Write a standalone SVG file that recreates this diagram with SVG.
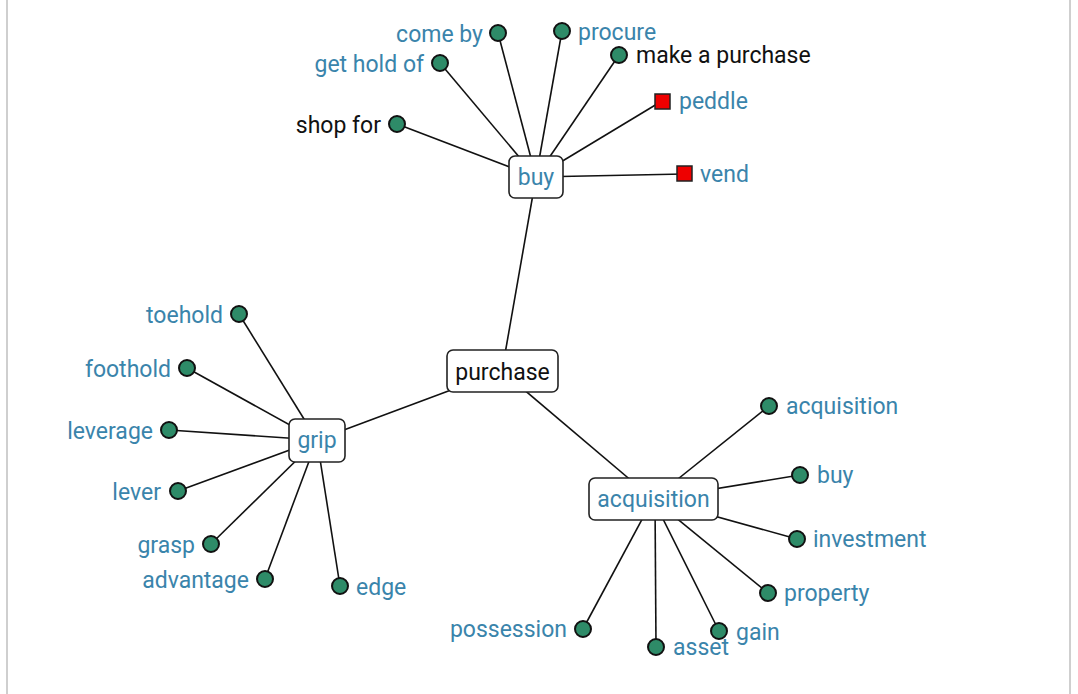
<svg xmlns="http://www.w3.org/2000/svg" width="1078" height="694" viewBox="0 0 1078 694">
<style>
.bg{fill:#fff}
.frame{stroke:#cfcfcf;stroke-width:2}
.edge{stroke:#111;stroke-width:1.6;fill:none}
.hub rect{fill:#fff;stroke:#222;stroke-width:1.6}
.t{font-family:Roboto,"Liberation Sans",sans-serif;font-size:23px;fill:#3a84ab}
.k{fill:#111}
.dot{fill:#2e8b68;stroke:#111;stroke-width:2}
.sq{fill:#ee0000;stroke:#222;stroke-width:1.5}
.e{text-anchor:end}
.m{text-anchor:middle}
</style>
<rect class="bg" x="0" y="0" width="1078" height="694"/>
<line class="frame" x1="7" y1="0" x2="7" y2="694"/>
<line class="frame" x1="1070" y1="0" x2="1070" y2="694"/>
<g id="connectors">
<line class="edge" x1="502" y1="371" x2="536" y2="177"/>
<line class="edge" x1="502" y1="371" x2="317" y2="440"/>
<line class="edge" x1="502" y1="371" x2="653" y2="499"/>
<line class="edge" x1="536" y1="177" x2="498" y2="33"/>
<line class="edge" x1="536" y1="177" x2="562" y2="31"/>
<line class="edge" x1="536" y1="177" x2="440" y2="63"/>
<line class="edge" x1="536" y1="177" x2="619" y2="55"/>
<line class="edge" x1="536" y1="177" x2="662" y2="101"/>
<line class="edge" x1="536" y1="177" x2="397" y2="124"/>
<line class="edge" x1="536" y1="177" x2="684" y2="174"/>
<line class="edge" x1="317" y1="440" x2="239" y2="314"/>
<line class="edge" x1="317" y1="440" x2="187" y2="368"/>
<line class="edge" x1="317" y1="440" x2="169" y2="430"/>
<line class="edge" x1="317" y1="440" x2="178" y2="491"/>
<line class="edge" x1="317" y1="440" x2="211" y2="544"/>
<line class="edge" x1="317" y1="440" x2="265" y2="579"/>
<line class="edge" x1="317" y1="440" x2="340" y2="586"/>
<line class="edge" x1="653" y1="499" x2="769" y2="406"/>
<line class="edge" x1="653" y1="499" x2="800" y2="475"/>
<line class="edge" x1="653" y1="499" x2="797" y2="539"/>
<line class="edge" x1="653" y1="499" x2="768" y2="593"/>
<line class="edge" x1="653" y1="499" x2="719" y2="631"/>
<line class="edge" x1="655" y1="499" x2="656" y2="647"/>
<line class="edge" x1="653" y1="499" x2="583" y2="629"/>
</g>
<g id="node-purchase" class="hub"><rect x="447" y="350" width="111" height="42" rx="6"/><text class="t k m" x="502.5" y="380">purchase</text></g>
<g id="node-buy" class="hub"><rect x="509" y="156" width="54" height="42" rx="6"/><text class="t m" x="536" y="185">buy</text></g>
<g id="node-grip" class="hub"><rect x="289" y="419" width="56" height="43" rx="6"/><text class="t m" x="317" y="448">grip</text></g>
<g id="node-acquisition" class="hub"><rect x="589" y="478" width="129" height="42" rx="6"/><text class="t m" x="653.5" y="507">acquisition</text></g>
<g id="leaf-come-by"><circle class="dot" cx="498" cy="33" r="8"/><text class="t e" x="483" y="42">come by</text></g>
<g id="leaf-procure"><circle class="dot" cx="562" cy="31" r="8"/><text class="t" x="578" y="40">procure</text></g>
<g id="leaf-get-hold-of"><circle class="dot" cx="440" cy="63" r="8"/><text class="t e" x="424" y="72">get hold of</text></g>
<g id="leaf-make-a-purchase"><circle class="dot" cx="619" cy="55" r="8"/><text class="t k" x="636" y="63">make a purchase</text></g>
<g id="leaf-peddle"><rect class="sq" x="655" y="94" width="15" height="15"/><text class="t" x="679" y="109">peddle</text></g>
<g id="leaf-shop-for"><circle class="dot" cx="397" cy="124" r="8"/><text class="t k e" x="381" y="133">shop for</text></g>
<g id="leaf-vend"><rect class="sq" x="677" y="166" width="15" height="15"/><text class="t" x="700" y="182">vend</text></g>
<g id="leaf-toehold"><circle class="dot" cx="239" cy="314" r="8"/><text class="t e" x="223" y="323">toehold</text></g>
<g id="leaf-foothold"><circle class="dot" cx="187" cy="368" r="8"/><text class="t e" x="171" y="377">foothold</text></g>
<g id="leaf-leverage"><circle class="dot" cx="169" cy="430" r="8"/><text class="t e" x="153" y="439">leverage</text></g>
<g id="leaf-lever"><circle class="dot" cx="178" cy="491" r="8"/><text class="t e" x="161" y="500">lever</text></g>
<g id="leaf-grasp"><circle class="dot" cx="211" cy="544" r="8"/><text class="t e" x="195" y="553">grasp</text></g>
<g id="leaf-advantage"><circle class="dot" cx="265" cy="579" r="8"/><text class="t e" x="249" y="588">advantage</text></g>
<g id="leaf-edge"><circle class="dot" cx="340" cy="586" r="8"/><text class="t" x="356" y="595">edge</text></g>
<g id="leaf-acquisition"><circle class="dot" cx="769" cy="406" r="8"/><text class="t" x="786" y="414">acquisition</text></g>
<g id="leaf-buy"><circle class="dot" cx="800" cy="475" r="8"/><text class="t" x="817" y="483">buy</text></g>
<g id="leaf-investment"><circle class="dot" cx="797" cy="539" r="8"/><text class="t" x="813" y="547">investment</text></g>
<g id="leaf-property"><circle class="dot" cx="768" cy="593" r="8"/><text class="t" x="784" y="601">property</text></g>
<g id="leaf-possession"><circle class="dot" cx="583" cy="629" r="8"/><text class="t e" x="567" y="637">possession</text></g>
<g id="leaf-gain"><circle class="dot" cx="719" cy="631" r="8"/><text class="t" x="736" y="640">gain</text></g>
<g id="leaf-asset"><circle class="dot" cx="656" cy="647" r="8"/><text class="t" x="673" y="655">asset</text></g>
</svg>
